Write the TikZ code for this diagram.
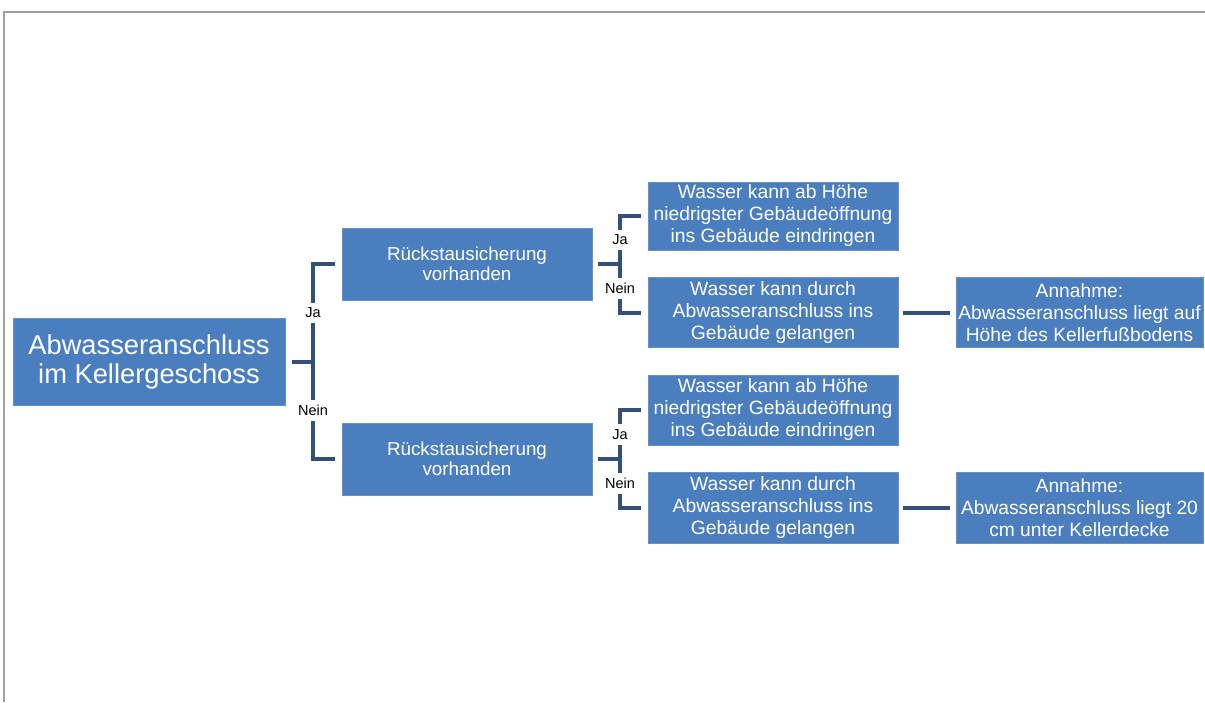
\documentclass[tikz,border=0pt]{standalone}
\usepackage{fontspec}
\setmainfont{Liberation Sans}
\definecolor{boxblue}{HTML}{4A7EBF}
\definecolor{linecol}{HTML}{34507A}
\definecolor{framecol}{HTML}{A0A0A0}
\tikzset{
  box/.style={fill=boxblue, draw=boxblue!85!white, line width=0.8pt, text=white, align=center, inner sep=0pt},
  bigbox/.style={box, minimum width=272pt, minimum height=87pt, font=\fontsize{27.3}{29}\selectfont},
  midbox/.style={box, minimum width=250pt, minimum height=72pt, font=\fontsize{18.8}{19.5}\selectfont},
  wbox/.style={box, minimum width=250pt, minimum height=70pt, font=\fontsize{19.3}{22}\selectfont},
  abox/.style={box, minimum width=247pt, minimum height=70pt, font=\fontsize{19.2}{22}\selectfont},
  conn/.style={draw=linecol, line width=4pt},
  lbl/.style={fill=white, text=black, inner xsep=1pt, inner ysep=5pt, font=\fontsize{14.5}{16}\selectfont}
}
\begin{document}
\begin{tikzpicture}[x=1pt,y=-1pt]
\useasboundingbox (0,0) rectangle (1205,702);
% frame
\draw[framecol, line width=2pt] (3.5,702) -- (3.5,12) -- (1205,12);

% nodes
\node[bigbox] (main) at (149,361.5) {Abwasseranschluss\\im Kellergeschoss};
\node[midbox] (r1) at (467,264) {Rückstausicherung\\vorhanden};
\node[midbox] (r2) at (467,459) {Rückstausicherung\\vorhanden};
\node[wbox, minimum height=68pt] (w1) at (773,216) {Wasser kann ab Höhe\\niedrigster Gebäudeöffnung\\ins Gebäude eindringen};
\node[wbox] (w2) at (773,312.5) {Wasser kann durch\\Abwasseranschluss ins\\Gebäude gelangen};
\node[wbox] (w3) at (773,410) {Wasser kann ab Höhe\\niedrigster Gebäudeöffnung\\ins Gebäude eindringen};
\node[wbox, minimum height=71pt] (w4) at (773,507.5) {Wasser kann durch\\Abwasseranschluss ins\\Gebäude gelangen};
\node[abox] (a1) at (1079.5,312.5) {Annahme:\\Abwasseranschluss liegt auf\\Höhe des Kellerfußbodens};
\node[abox, minimum height=71pt] (a2) at (1079.5,507.5) {Annahme:\\Abwasseranschluss liegt 20\\cm unter Kellerdecke};

% junctions
\coordinate (j1) at (313,361.5);
\coordinate (j2) at (620,264);
\coordinate (j3) at (620,459);

% first level
\draw[conn] ([xshift=7pt]main.east) -- (j1);
\draw[conn] ([xshift=-7pt]r1.west) -| (j1) node[lbl,pos=0.75]{Ja};
\draw[conn] ([xshift=-7pt]r2.west) -| (j1) node[lbl,pos=0.75]{Nein};

% second level, top
\draw[conn] ([xshift=6pt]r1.east) -- (j2);
\draw[conn] ([xshift=-7pt]w1.west) -| (j2) node[lbl,pos=0.75]{Ja};
\draw[conn] ([xshift=-7pt]w2.west) -| (j2) node[lbl,pos=0.75]{Nein};

% second level, bottom
\draw[conn] ([xshift=6pt]r2.east) -- (j3);
\draw[conn] ([xshift=-7pt]w3.west) -| (j3) node[lbl,pos=0.75]{Ja};
\draw[conn] ([xshift=-7pt]w4.west) -| (j3) node[lbl,pos=0.75]{Nein};

% to assumptions
\draw[conn] ([xshift=5pt]w2.east) -- ([xshift=-6pt]a1.west);
\draw[conn] ([xshift=5pt]w4.east) -- ([xshift=-6pt]a2.west);
\end{tikzpicture}
\end{document}
